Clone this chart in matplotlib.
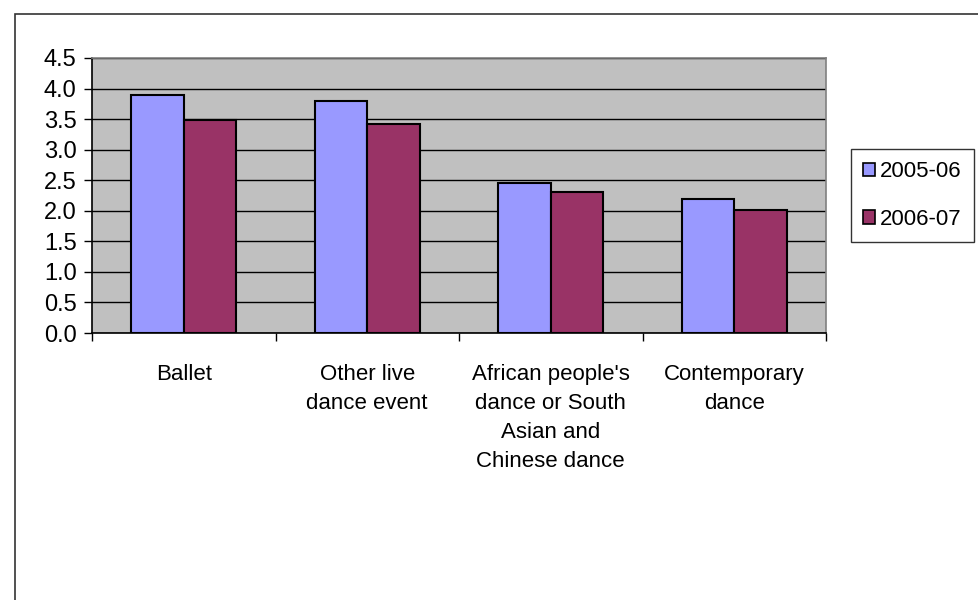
import numpy as np
import matplotlib

matplotlib.use("Agg")
import matplotlib.pyplot as plt
from matplotlib.patches import Patch, Rectangle

plt.rcParams["font.family"] = ["Liberation Sans", "DejaVu Sans"]

# data
categories = [
    "Ballet",
    "Other live\ndance event",
    "African people's\ndance or South\nAsian and\nChinese dance",
    "Contemporary\ndance",
]
series_names = ["2005-06", "2006-07"]
values_0506 = [3.90, 3.80, 2.46, 2.19]
values_0607 = [3.49, 3.42, 2.31, 2.02]
yticks = [0.0, 0.5, 1.0, 1.5, 2.0, 2.5, 3.0, 3.5, 4.0, 4.5]

colors = ["#9999FF", "#993366"]
fs = 16

fig = plt.figure(figsize=(9.79, 6.0), dpi=100)
ax = fig.add_axes([92 / 979, 1 - 333 / 600, (826 - 92) / 979, (333 - 58) / 600])
ax.set_facecolor("#C0C0C0")

x = np.arange(len(categories))
width = 1 / 3.5  # Excel gap width 150%
for i, (vals, col, name) in enumerate(zip([values_0506, values_0607], colors, series_names)):
    ax.bar(x + (i - 0.5) * width, vals, width, color=col, edgecolor="black",
           linewidth=1.5, label=name, zorder=3)

ax.set_xlim(-0.5, len(categories) - 0.5)
ax.set_ylim(0, 4.5)
ax.set_yticks(yticks)
ax.set_yticklabels([f"{t:.1f}" for t in yticks], fontsize=17)
ax.yaxis.grid(True, color="black", linewidth=1, zorder=1)
ax.set_axisbelow(True)

ax.set_xticks(x)
ax.set_xticklabels(categories, fontsize=fs, linespacing=1.5, va="top")
ax.tick_params(axis="x", which="major", length=0, pad=22)
ax.set_xticks(np.arange(-0.5, len(categories)), minor=True)
ax.tick_params(axis="x", which="minor", length=6, width=1, color="black", direction="out")
ax.tick_params(axis="y", length=6, width=1, color="black", direction="out", pad=5)

ax.spines["left"].set_color("black")
ax.spines["bottom"].set_color("black")
ax.spines["top"].set_color("#808080")
ax.spines["right"].set_color("#808080")
for s in ax.spines.values():
    s.set_linewidth(1.2)

handles = [Patch(facecolor=c, edgecolor="black", linewidth=1.2) for c in colors]
leg = fig.legend(handles, series_names, loc="upper left",
                 bbox_to_anchor=(851 / 979, 1 - 149 / 600), borderaxespad=0,
                 fontsize=fs, handlelength=0.55, handleheight=0.55, handletextpad=0.2,
                 labelspacing=1.2, borderpad=0.55, fancybox=False, frameon=True)
leg.get_frame().set_edgecolor("black")
leg.get_frame().set_linewidth(1)

# outer chart frame (runs off the right and bottom of the image)
fig.patches.append(Rectangle((15 / 979, -0.1), 1.2, 1 - 14 / 600 + 0.1,
                             transform=fig.transFigure, fill=False,
                             edgecolor="#333333", linewidth=1.2))

fig.savefig("out.png", dpi=100)
